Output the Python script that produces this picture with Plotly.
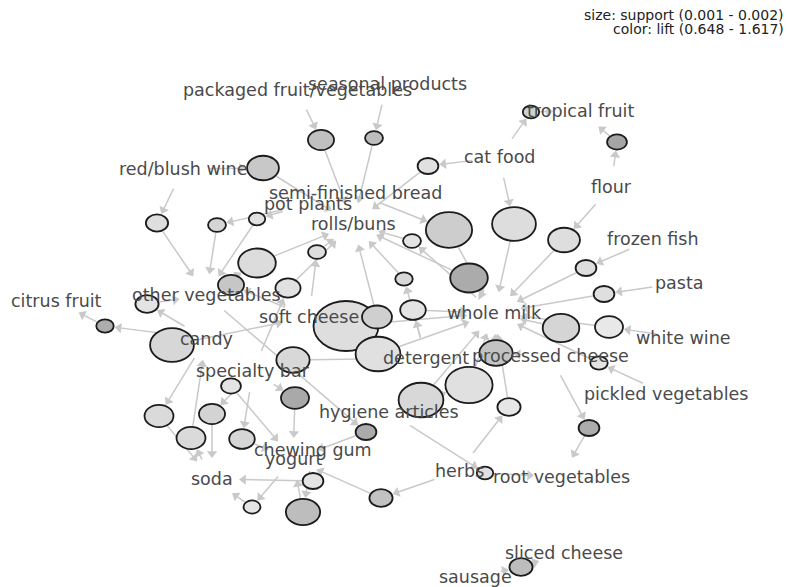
import math
import plotly.graph_objects as go

# ---- item vertices (labels) ----
items = [
    "packaged fruit/vegetables", "seasonal products", "tropical fruit", "cat food",
    "red/blush wine", "semi-finished bread", "flour", "pot plants", "rolls/buns",
    "frozen fish", "pasta", "other vegetables", "citrus fruit", "soft cheese",
    "whole milk", "white wine", "candy", "detergent", "processed cheese",
    "specialty bar", "pickled vegetables", "hygiene articles", "chewing gum",
    "yogurt", "soda", "herbs", "root vegetables", "sliced cheese", "sausage",
]
item_x = [297, 387, 580, 499, 183, 355, 611, 308, 353, 653, 679, 206, 56, 309,
          494, 683, 206, 426, 550, 253, 666, 389, 313, 293, 212, 459, 561, 564, 475]
item_y = [90, 84, 111, 157, 169, 193, 187, 204, 224, 239, 283, 295, 301, 317,
          313, 338, 339, 358, 356, 371, 394, 412, 450, 459, 479, 471, 477, 553, 577]

# ---- rule vertices ----
rule_x = [321, 374, 263, 428, 531, 617, 157, 217, 257, 449, 514, 564, 412, 257, 317,
          586, 469, 231, 288, 404, 604, 147, 105, 172, 346, 377, 413, 561, 609, 378,
          293, 496, 599, 231, 295, 469, 421, 509, 159, 212, 191, 242, 366, 589, 313,
          381, 252, 303, 485, 521]
rule_y = [140, 138, 168, 166, 112, 142, 223, 225, 219, 230, 224, 240, 241, 263, 252,
          268, 278, 285, 288, 279, 294, 304, 326, 345, 326, 317, 310, 328, 327, 354,
          360, 353, 363, 386, 398, 385, 400, 407, 416, 414, 438, 439, 432, 428, 481,
          498, 507, 512, 473, 567]
rule_support = [0.00121, 0.00104, 0.00133, 0.00110, 0.00101, 0.00108, 0.00113, 0.00104,
                0.00101, 0.00163, 0.00158, 0.00133, 0.00104, 0.00145, 0.00104, 0.00110,
                0.00145, 0.00121, 0.00119, 0.00103, 0.00110, 0.00115, 0.00103, 0.00158,
                0.00202, 0.00129, 0.00120, 0.00143, 0.00125, 0.00160, 0.00136, 0.00136,
                0.00103, 0.00108, 0.00125, 0.00165, 0.00160, 0.00115, 0.00127, 0.00121,
                0.00127, 0.00120, 0.00110, 0.00110, 0.00110, 0.00115, 0.00102, 0.00138,
                0.00101, 0.00115]
rule_lift = [1.226, 1.270, 1.111, 0.764, 0.995, 1.617, 0.793, 0.923, 0.764, 1.038,
             0.807, 0.793, 0.720, 0.822, 0.793, 0.807, 1.530, 1.140, 0.764, 0.879,
             0.778, 0.720, 1.501, 0.894, 0.793, 1.010, 0.720, 0.923, 0.648, 0.764,
             0.879, 1.183, 0.720, 0.720, 1.559, 0.764, 0.879, 0.677, 0.850, 0.952,
             0.850, 0.908, 1.530, 1.516, 0.720, 1.197, 0.677, 1.270, 0.764, 1.270]
rule_lhs = [
    ["packaged fruit/vegetables"], ["seasonal products"], ["red/blush wine"], ["cat food"],
    ["cat food"], ["flour"], ["red/blush wine"], ["pot plants"], ["pot plants"],
    ["semi-finished bread"], ["cat food"], ["flour"], ["whole milk"], ["other vegetables"],
    ["soft cheese"], ["frozen fish"], ["whole milk"], ["soft cheese"], ["specialty bar"],
    ["detergent"], ["pasta"], ["candy"], ["candy"], ["candy"], ["soft cheese"],
    ["soft cheese"], ["detergent"], ["processed cheese"], ["white wine"], ["detergent"],
    ["specialty bar"], ["processed cheese"], ["pickled vegetables"], ["specialty bar"],
    ["specialty bar"], ["hygiene articles"], ["hygiene articles"], ["herbs"], ["candy"],
    ["specialty bar"], ["soda"], ["specialty bar"], ["hygiene articles", "other vegetables"],
    ["processed cheese"], ["yogurt"], ["herbs"], ["yogurt"], ["chewing gum"],
    ["herbs", "hygiene articles"], ["sausage"],
]
rule_rhs = [
    "rolls/buns", "rolls/buns", "rolls/buns", "rolls/buns", "tropical fruit",
    "tropical fruit", "other vegetables", "other vegetables", "other vegetables",
    "whole milk", "whole milk", "whole milk", "rolls/buns", "rolls/buns", "rolls/buns",
    "whole milk", "rolls/buns", "other vegetables", "rolls/buns", "rolls/buns",
    "whole milk", "other vegetables", "citrus fruit", "soft cheese", "whole milk",
    "rolls/buns", "whole milk", "whole milk", "whole milk", "whole milk", "detergent",
    "whole milk", "whole milk", "yogurt", "yogurt", "whole milk", "whole milk",
    "whole milk", "soda", "soda", "candy", "yogurt", "yogurt", "root vegetables",
    "soda", "yogurt", "soda", "yogurt", "root vegetables", "sliced cheese",
]

SUPPORT_RANGE = (0.001, 0.002)
LIFT_RANGE = (0.648, 1.617)

W, H = 787, 587
ITEM_A, ITEM_B = 27.0, 21.0          # clearance around a label
EDGE_COLOR = "#c9c9c9"
LABEL_FONT = dict(family="DejaVu Sans", size=17.5, color="#4a4a4a")
LEGEND_FONT = dict(family="DejaVu Sans", size=14, color="#222222")


def radii(s):
    rx = 8 + (s - SUPPORT_RANGE[0]) / (SUPPORT_RANGE[1] - SUPPORT_RANGE[0]) * 24
    return rx, rx * 0.77


def fill(lift):
    t = (lift - LIFT_RANGE[0]) / (LIFT_RANGE[1] - LIFT_RANGE[0])
    g = int(round(232 - t * 67))
    return f"rgb({g},{g},{g})"


def boundary(cx, cy, tx, ty, a, b):
    dx, dy = tx - cx, ty - cy
    k = 1.0 / math.sqrt((dx / a) ** 2 + (dy / b) ** 2)
    return cx + k * dx, cy + k * dy


pos = {n: (x, y) for n, x, y in zip(items, item_x, item_y)}

ex, ey = [], []
hx, hy, hang = [], [], []


def add_edge(p0, p1):
    dx, dy = p1[0] - p0[0], p1[1] - p0[1]
    L = math.hypot(dx, dy)
    ux, uy = dx / L, dy / L
    ex.extend([p0[0], p1[0] - ux * 3, None])
    ey.extend([p0[1], p1[1] - uy * 3, None])
    hx.append(p1[0] - ux * 4.5)
    hy.append(p1[1] - uy * 4.5)
    hang.append(math.degrees(math.atan2(dx, -dy)))


for i in range(len(rule_x)):
    rx, ry = radii(rule_support[i])
    cx, cy = rule_x[i], rule_y[i]
    for it in rule_lhs[i]:
        ix, iy = pos[it]
        p0 = boundary(ix, iy, cx, cy, ITEM_A, ITEM_B)
        p1 = boundary(cx, cy, ix, iy, rx + 1, ry + 1)
        add_edge(p0, p1)
    ix, iy = pos[rule_rhs[i]]
    p0 = boundary(cx, cy, ix, iy, rx + 1, ry + 1)
    p1 = boundary(ix, iy, cx, cy, ITEM_A, ITEM_B)
    add_edge(p0, p1)

fig = go.Figure()
fig.add_trace(go.Scatter(x=ex, y=ey, mode="lines", hoverinfo="skip",
                         line=dict(color=EDGE_COLOR, width=1.5)))
fig.add_trace(go.Scatter(x=hx, y=hy, mode="markers", hoverinfo="skip",
                         marker=dict(symbol="triangle-up", size=9, angle=hang,
                                     color=EDGE_COLOR, line=dict(width=0))))

for i in range(len(rule_x)):
    rx, ry = radii(rule_support[i])
    fig.add_shape(type="circle", xref="x", yref="y", layer="above",
                  x0=rule_x[i] - rx, x1=rule_x[i] + rx,
                  y0=rule_y[i] - ry, y1=rule_y[i] + ry,
                  fillcolor=fill(rule_lift[i]),
                  line=dict(color="#1c1c1c", width=1.8))

for n, x, y in zip(items, item_x, item_y):
    fig.add_annotation(x=x, y=y, xref="x", yref="y", text=n, showarrow=False,
                       xanchor="center", yanchor="middle", font=LABEL_FONT)

fig.add_annotation(x=786, y=15, xref="x", yref="y", showarrow=False, xanchor="right",
                   yanchor="middle",
                   text=f"size: support ({SUPPORT_RANGE[0]} - {SUPPORT_RANGE[1]})",
                   font=LEGEND_FONT)
fig.add_annotation(x=786, y=29, xref="x", yref="y", showarrow=False, xanchor="right",
                   yanchor="middle",
                   text=f"color: lift ({LIFT_RANGE[0]} - {LIFT_RANGE[1]})",
                   font=LEGEND_FONT)

fig.update_layout(
    width=W, height=H, margin=dict(l=0, r=0, t=0, b=0),
    paper_bgcolor="white", plot_bgcolor="white", showlegend=False,
    xaxis=dict(range=[0, W], visible=False, fixedrange=True),
    yaxis=dict(range=[H, 0], visible=False, fixedrange=True),
)
fig.write_html("out.html")
